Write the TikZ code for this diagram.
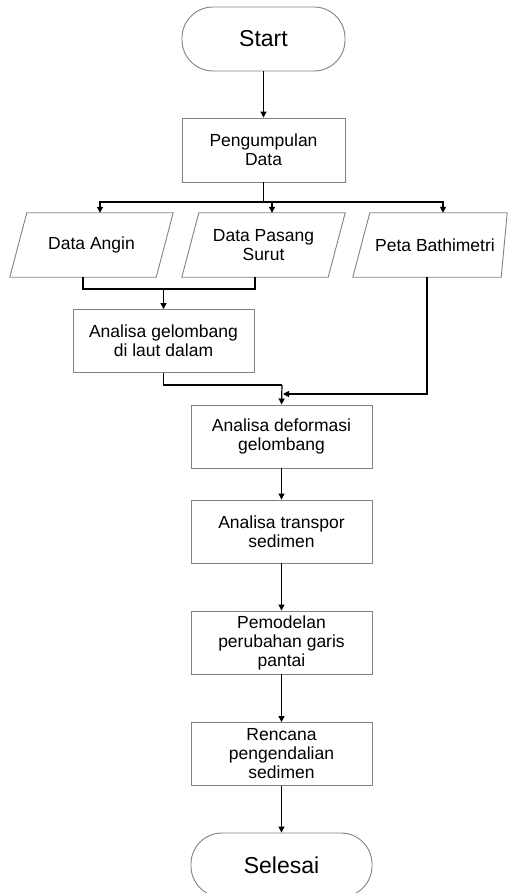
\documentclass[tikz,border=0pt]{standalone}
\usepackage{fontspec}
\setmainfont{Liberation Sans}
\usetikzlibrary{arrows.meta,calc}
\definecolor{boxgray}{RGB}{130,130,130}
\begin{document}
\begin{tikzpicture}[x=1pt,y=-1pt,
  txt/.style={align=center, font=\fontsize{17.5}{19}\selectfont, inner sep=0pt},
  box/.style={txt, draw=boxgray, line width=0.9pt, minimum width=181pt, minimum height=63pt},
  term/.style={draw=boxgray, line width=0.9pt, rounded corners=31pt, minimum width=163pt, minimum height=64pt, font=\fontsize{23}{26}\selectfont},
  pnode/.style={txt, minimum width=146pt, minimum height=64pt},
  outline/.style={draw=boxgray, line width=0.9pt},
  line/.style={draw=black, line width=1.2pt},
  arr/.style={line, -{Triangle[width=6pt,length=6pt]}}
]
\useasboundingbox (0,0) rectangle (508,893);
\node[term] (start) at (263.5,39) {Start};
\node[box, minimum width=163pt, minimum height=64pt] (kumpul) at (263.5,150) {Pengumpulan\\Data};
\node[pnode] (angin) at (91.5,245) {Data Angin};
\node[pnode] (pasang) at (263.5,245) {Data Pasang\\Surut};
\node[pnode, minimum width=140pt] (peta) at (435,245) {Peta Bathimetri};
\draw[outline] ($(angin.north west)+(8.5,0)$) -- ($(angin.north east)+(8.5,0)$) -- ($(angin.south east)+(-8.5,0)$) -- ($(angin.south west)+(-8.5,0)$) -- cycle;
\draw[outline] ($(pasang.north west)+(8.5,0)$) -- ($(pasang.north east)+(8.5,0)$) -- ($(pasang.south east)+(-8.5,0)$) -- ($(pasang.south west)+(-8.5,0)$) -- cycle;
\draw[outline] ($(peta.north west)+(5,0)$) -- ($(peta.north east)+(2,0)$) -- ($(peta.south east)+(-4,0)$) -- ($(peta.south west)+(-12,0)$) -- cycle;
\node[box] (gelombang) at (163.5,341) {Analisa gelombang\\di laut dalam};
\node[box] (deform) at (281.5,436.5) {Analisa deformasi\\gelombang};
\node[box] (transpor) at (281.5,531.5) {Analisa transpor\\sedimen};
\node[box] (model) at (281.5,642.5) {Pemodelan\\perubahan garis\\pantai};
\node[box] (rencana) at (281.5,754) {Rencana\\pengendalian\\sedimen};
\node[term, minimum width=181pt] (selesai) at (281.5,865) {Selesai};
% coordinates
\coordinate (split) at (263.5,202);
\coordinate (aTop) at ($(angin.north)+(8.5,0)$);
\coordinate (pTop) at ($(pasang.north)+(8.5,0)$);
\coordinate (tTop) at ($(peta.north)+(8,0)$);
\coordinate (aBot) at ($(angin.south)+(-8.5,0)$);
\coordinate (pBot) at ($(pasang.south)+(-8.5,0)$);
\coordinate (tBot) at ($(peta.south)+(-8,0)$);
\coordinate (merge1) at (163.5,289);
\coordinate (merge2) at (282,385);
\coordinate (join) at (283,394);
% connectors
\draw[arr] (start) -- (kumpul);
\draw[line] (kumpul.south) -- (split);
\draw[arr] (split) -| (aTop);
\draw[arr] (split) -| (pTop);
\draw[arr] (split) -| (tTop);
\draw[line] (aBot) |- (merge1) -| (pBot);
\draw[arr] (merge1) -- (gelombang.north);
\draw[line] (gelombang.south) |- (merge2);
\draw[arr] (merge2) -- (deform.north);
\draw[arr] (tBot) |- (join);
\draw[arr] (deform) -- (transpor);
\draw[arr] (transpor) -- (model);
\draw[arr] (model) -- (rencana);
\draw[arr] (rencana) -- (selesai);
\end{tikzpicture}
\end{document}
